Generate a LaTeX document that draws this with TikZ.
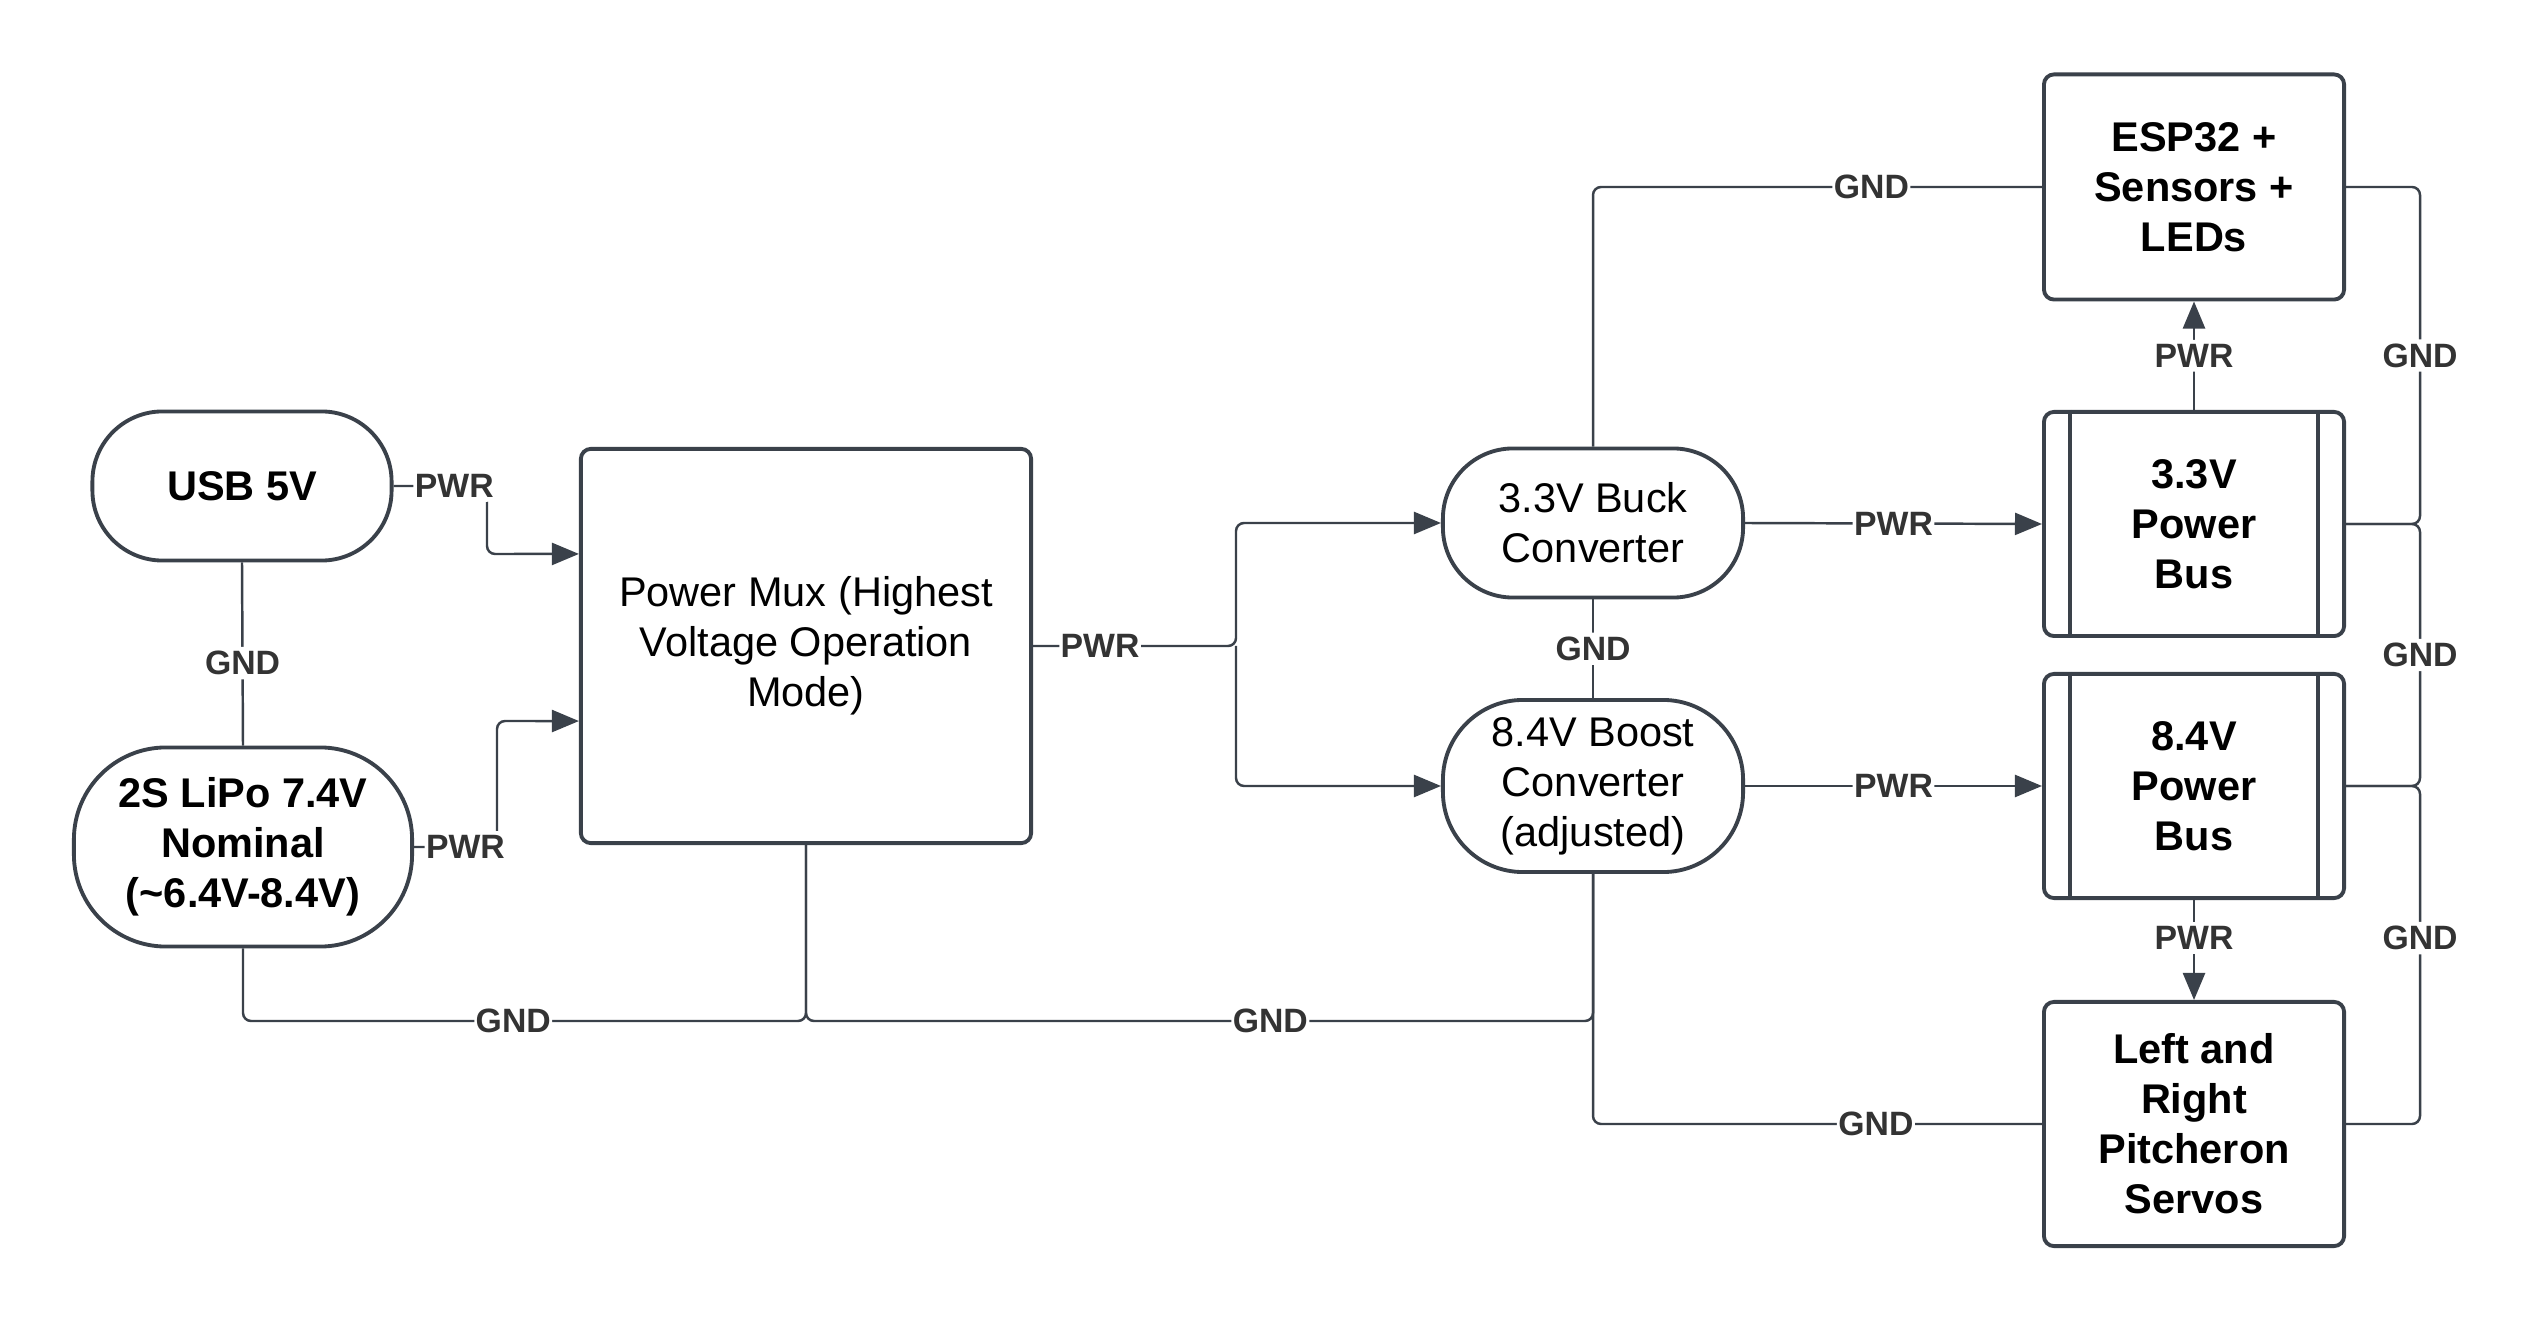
\documentclass[tikz,border=0pt]{standalone}
\usepackage{fontspec}
\setmainfont{Liberation Sans}
\usetikzlibrary{arrows.meta}
\definecolor{lc}{HTML}{3A414A}
\definecolor{lt}{HTML}{333333}
\begin{document}
\begin{tikzpicture}[x=0.01cm,y=-0.01cm,
  box/.style={draw=lc, line width=1.1pt, rounded corners=0.1cm, align=center, inner sep=0pt, font=\fontsize{11.8}{14.2}\selectfont, text=black},
  bbox/.style={box, font=\fontsize{11.8}{14.2}\selectfont\bfseries},
  term/.style={rounded corners=#1},
  conn/.style={draw=lc, line width=0.7pt, rounded corners=0.08cm},
  arr/.style={conn, -{Triangle[length=0.27cm,width=0.22cm]}},
  lbl/.style={fill=white, text=lt, font=\fontsize{9.6}{11}\selectfont\bfseries, inner xsep=0.4pt, inner ysep=1.2pt},
  busline/.style={draw=lc, line width=1.1pt},
]
\useasboundingbox (0,0) rectangle (2533,1322);

% nodes
\node[bbox, term=0.7cm, minimum width=2.99cm, minimum height=1.49cm] (usb) at (242,486) {USB 5V};
\node[bbox, term=0.92cm, minimum width=3.38cm, minimum height=1.99cm] (lipo) at (243,847) {2S LiPo 7.4V\\Nominal\\(\textasciitilde6.4V-8.4V)};
\node[box, minimum width=4.50cm, minimum height=3.94cm] (mux) at (806,646) {Power Mux (Highest\\Voltage Operation\\Mode)};
\node[box, term=0.7cm, minimum width=3.00cm, minimum height=1.49cm] (buck) at (1593,523) {3.3V Buck\\Converter};
\node[box, term=0.8cm, minimum width=3.00cm, minimum height=1.72cm] (boost) at (1593,786) {8.4V Boost\\Converter\\(adjusted)};
\node[bbox, minimum width=3.00cm, minimum height=2.25cm] (esp) at (2194,187) {ESP32 +\\Sensors +\\LEDs};
\node[bbox, minimum width=3.00cm, minimum height=2.24cm] (bus33) at (2194,524) {3.3V\\Power\\Bus};
\node[bbox, minimum width=3.00cm, minimum height=2.24cm] (bus84) at (2194,786) {8.4V\\Power\\Bus};
\node[bbox, minimum width=3.00cm, minimum height=2.44cm] (servo) at (2194,1124) {Left and\\Right\\Pitcheron\\Servos};

% bus inner lines
\foreach \b in {bus33,bus84}{
  \draw[busline] ([xshift=0.28cm]\b.north west) -- ([xshift=0.28cm]\b.south west);
  \draw[busline] ([xshift=-0.28cm]\b.north east) -- ([xshift=-0.28cm]\b.south east);
}

% power connectors
\draw[arr] (usb.east) -- node[lbl,pos=0.65]{PWR} (487,486) -- (487,554) -- ([yshift=0.92cm]mux.west);
\draw[arr] (lipo.east) -- node[lbl,pos=0.62]{PWR} (497,847) -- (497,721) -- ([yshift=-0.75cm]mux.west);
\draw[arr] (mux.east) -- node[lbl,pos=0.33]{PWR} (1236,646) |- (buck.west);
\draw[arr] (1236,646) |- (boost.west);
\draw[arr] (buck.east) -- node[lbl]{PWR} (bus33.west);
\draw[arr] (boost.east) -- node[lbl]{PWR} (bus84.west);
\draw[arr] (bus33.north) -- node[lbl]{PWR} (esp.south);
\draw[arr] (bus84.south) -- node[lbl,pos=0.38]{PWR} (servo.north);

% ground connectors
\draw[conn] (usb.south) -- node[lbl,pos=0.55]{GND} (lipo.north);
\draw[conn] (lipo.south) -- (243,1021) -- node[lbl,pos=0.48]{GND} (806,1021) -- (mux.south);
\draw[conn] (mux.south) -- (806,1021) -- node[lbl,pos=0.59]{GND} (1593,1021) -- (boost.south);
\draw[conn] (boost.south) -- (1593,1124) -- node[lbl,pos=0.63]{GND} (servo.west);
\draw[conn] (buck.north) -- (1593,187) -- node[lbl,pos=0.62]{GND} (esp.west);
\draw[conn] (buck.south) -- node[lbl]{GND} (boost.north);
\draw[conn] (esp.east) -- (2420,187) -- node[lbl]{GND} (2420,524) -- (bus33.east);
\draw[conn] (bus33.east) -- (2420,524) -- node[lbl]{GND} (2420,786) -- (bus84.east);
\draw[conn] (bus84.east) -- (2420,786) -- node[lbl,pos=0.45]{GND} (2420,1124) -- (servo.east);
\end{tikzpicture}
\end{document}
